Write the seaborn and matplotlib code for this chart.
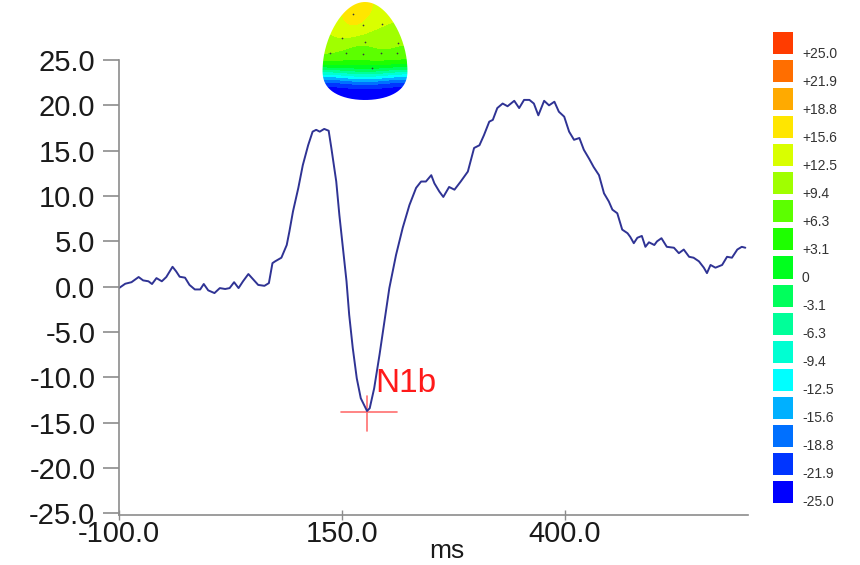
import numpy as np
import pandas as pd
import matplotlib
matplotlib.use("Agg")
import matplotlib.pyplot as plt
import seaborn as sns
from matplotlib.colors import ListedColormap
from matplotlib.path import Path
from matplotlib.patches import PathPatch

# ---------------- data ----------------
times = [-100, -93, -86, -78, -73, -67, -63, -58, -52, -47, -40, -36, -32, -26, -21,
         -15, -9, -5, 0, 7, 13, 19, 24, 29, 34, 39, 45, 50, 56, 63, 68, 72, 75, 82,
         88, 91, 95, 101, 106, 112, 117, 121, 125, 130, 135, 138, 143.5, 147, 151,
         155, 158, 162, 166.5, 171, 178, 181, 186, 192, 197.5, 203, 210.5, 218,
         225.5, 233, 238.6, 244, 250, 253.5, 259, 263.5, 270, 276, 283, 291, 298,
         304, 309, 315, 319, 324, 330, 335.5, 343, 348.5, 354, 360, 365, 370, 376.5,
         382, 388, 393, 399, 404.5, 410, 416, 421, 427, 432, 438, 443.6, 449, 453,
         458.5, 464, 470, 473, 477, 481, 486, 490, 494, 500, 503, 508, 514, 522,
         527.5, 533, 539, 544, 550, 555.5, 559, 563, 568.5, 576, 581.5, 587, 593,
         598, 602]
amps = [-0.15, 0.33, 0.5, 1.07, 0.7, 0.6, 0.3, 0.95, 0.6, 1.07, 2.2, 1.7, 1.1, 1.0, 0.2,
        -0.3, -0.3, 0.3, -0.4, -0.7, -0.15, -0.25, -0.15, 0.5, -0.15, 0.6, 1.4, 0.85, 0.2,
        0.1, 0.4, 2.6, 2.8, 3.2, 4.6, 6.1, 8.3, 10.9, 13.4, 15.6, 17.1, 17.3, 17.1, 17.4,
        17.2, 15.3, 11.6, 7.9, 4.3, 0.6, -3.1, -6.75, -10.1, -12.3, -13.7, -13.4, -11.2,
        -7.5, -3.8, -0.15, 3.5, 6.5, 9.0, 10.9, 11.6, 11.6, 12.3, 11.4, 10.5, 9.9, 11.0,
        10.7, 11.6, 12.7, 15.3, 15.6, 16.7, 18.2, 18.4, 19.7, 20.2, 19.9, 20.5, 19.7,
        20.6, 20.6, 20.2, 18.9, 20.5, 20.0, 20.4, 19.3, 18.75, 17.1, 16.2, 16.4, 15.1,
        14.1, 13.2, 12.3, 10.3, 9.4, 8.5, 8.1, 6.3, 5.9, 5.5, 4.8, 5.4, 5.6, 4.4, 4.9,
        4.6, 5.0, 5.35, 4.4, 4.3, 3.7, 4.1, 3.3, 3.2, 2.8, 2.1, 1.5, 2.4, 2.1, 2.4, 3.3,
        3.2, 4.1, 4.4, 4.3]

x_ticks = [-100, 150, 400]
y_ticks = [-25, -20, -15, -10, -5, 0, 5, 10, 15, 20, 25]
x_label = "ms"

peak_label = "N1b"
peak_time = 178.5
peak_amp = -13.8

scale_levels = [25.0, 21.9, 18.8, 15.6, 12.5, 9.4, 6.3, 3.1, 0.0,
                -3.1, -6.3, -9.4, -12.5, -15.6, -18.8, -21.9, -25.0]
scale_labels = ["+25.0", "+21.9", "+18.8", "+15.6", "+12.5", "+9.4", "+6.3", "+3.1", "0",
                "-3.1", "-6.3", "-9.4", "-12.5", "-15.6", "-18.8", "-21.9", "-25.0"]
scale_colors = ["#ff3c00", "#ff6e00", "#ffaa00", "#ffe600", "#d9ff00", "#a0ff00",
                "#5cff00", "#1eff00", "#00ff1e", "#00ff5c", "#00ff99", "#00ffd2",
                "#00ffff", "#00b0ff", "#0070ff", "#0035ff", "#0000ff"]

# scalp map values (rows: front -> back, cols: left -> right)
topo_values = [
    [11.0, 13.5, 14.5, 13.5, 11.5, 10.5],
    [11.0, 14.0, 14.5, 13.0, 11.5, 10.5],
    [10.5, 12.5, 13.5, 10.5, 9.5, 9.0],
    [9.5, 10.5, 8.5, 8.0, 9.5, 8.0],
    [8.0, 7.0, 5.5, 7.0, 7.0, 6.5],
    [5.5, 5.0, 4.5, 5.0, 5.0, 4.5],
    [-10.0, -8.0, -6.0, -6.0, -8.0, -10.0],
    [-23.0, -22.0, -21.0, -21.0, -22.0, -23.0],
    [-25.0, -25.0, -25.0, -25.0, -25.0, -25.0],
]
electrode_x = [353, 363, 382, 342, 365, 398, 330, 346, 363, 381, 397, 372]
electrode_y = [14, 25, 24, 38, 42, 43, 53, 53, 54, 53, 53, 68]

# ---------------- style ----------------
sns.set_theme(style="white")
plt.rcParams["font.family"] = ["Liberation Sans", "DejaVu Sans"]

W, H = 860, 565
fig = plt.figure(figsize=(W / 100, H / 100), dpi=100)
fig.patch.set_facecolor("white")

axis_gray = "#8c8c8c"

# ---------------- main ERP axes ----------------
ax = fig.add_axes([119 / W, 1 - 515 / H, 629 / W, 455 / H])
sns.lineplot(x=times, y=amps, ax=ax, color="#2f3394", linewidth=1.4,
             estimator=None, sort=False)
ax.set_xlim(-100, 605)
ax.set_ylim(-25.17, 25)
for s in ["top", "right"]:
    ax.spines[s].set_visible(False)
for s in ["left", "bottom"]:
    ax.spines[s].set_color(axis_gray)
    ax.spines[s].set_linewidth(1.2)

ax.set_yticks(y_ticks)
ax.set_yticklabels([f"{v:.1f}" for v in y_ticks])
ax.set_yticks([-25, 25], minor=True)
ax.set_xticks(x_ticks)
ax.set_xticklabels([f"{v:.1f}" for v in x_ticks])
ax.tick_params(axis="y", which="major", direction="out", length=11.5, width=1.2,
               color=axis_gray, pad=5.5, labelsize=21, labelcolor="#1a1a1a", left=True)
ax.tick_params(axis="y", which="minor", direction="in", length=11, width=1.2,
               color=axis_gray, left=True)
ax.tick_params(axis="x", which="major", direction="inout", length=7, width=1.0,
               color=axis_gray, pad=0, labelsize=21, labelcolor="#1a1a1a", bottom=True)

ax.set_xlabel(x_label, fontsize=19, color="#1a1a1a")
ax.xaxis.set_label_coords(0.521, (515 - 551) / 455)
ax.xaxis.label.set_va("center")

# N1b marker
cross_col = "#ff7070"
ax.plot([peak_time - 29.5, peak_time + 33.5], [peak_amp, peak_amp],
        color=cross_col, lw=1.2, zorder=1)
ax.plot([peak_time, peak_time], [peak_amp + 1.8, peak_amp - 2.1],
        color=cross_col, lw=1.2, zorder=1)
ax.text(187, -11.6, peak_label, color="#ff1a1a", fontsize=24,
        ha="left", va="baseline")

# ---------------- colour scale ----------------
cmap = ListedColormap(scale_colors[::-1])
cax = fig.add_axes([770 / W, 1 - 506 / H, 26 / W, 477 / H])
df = pd.DataFrame({"v": scale_levels})
sns.heatmap(df, ax=cax, cmap=cmap, vmin=-25, vmax=25, cbar=False,
            linewidths=2.9, linecolor="white", xticklabels=False, yticklabels=False)
cax.yaxis.tick_right()
cax.set_yticks(np.arange(len(scale_levels)) + 0.82)
cax.set_yticklabels(scale_labels, fontsize=10, color="#333333")
cax.tick_params(axis="y", length=0, pad=4.3, right=True, left=False)
cax.tick_params(axis="x", length=0)
for s in cax.spines.values():
    s.set_visible(False)

# ---------------- scalp map ----------------
hax = fig.add_axes([320 / W, 1 - 105 / H, 90 / W, 105 / H])
hax.set_xlim(320, 410)
hax.set_ylim(105, 0)
hax.axis("off")
im = hax.imshow(np.array(topo_values), cmap=cmap, vmin=-25, vmax=25,
                extent=(322, 408, 102, 2), origin="upper",
                interpolation="bicubic", interpolation_stage="data", aspect="auto")
t = np.linspace(0, 2 * np.pi, 300)
ct = np.cos(t)
ex = 365 + 42 * np.sin(t) * (1 - 0.15 * ct)
ey = 62 - np.where(ct > 0, 60, 38) * np.sign(ct) * np.abs(ct) ** np.where(ct > 0, 1.0, 0.75)
egg = PathPatch(Path(np.column_stack([ex, ey])), transform=hax.transData,
                facecolor="none", edgecolor="none")
hax.add_patch(egg)
im.set_clip_path(egg)
hax.scatter(electrode_x, electrode_y, s=1.5, color="#3a3a3a", zorder=3, linewidths=0)

fig.savefig("out.png", dpi=100, facecolor="white")
